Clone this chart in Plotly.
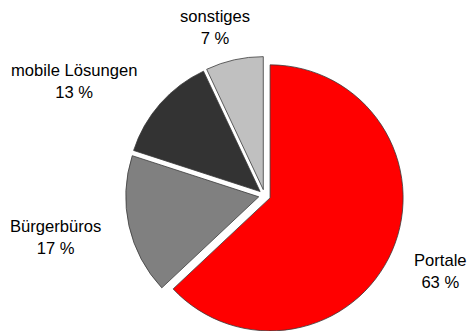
import plotly.graph_objects as go

# Share of channels (percent), clockwise from 12 o'clock
categories = ["Portale", "Bürgerbüros", "mobile Lösungen", "sonstiges"]
shares = [63, 17, 13, 7]
colors = ["#FF0000", "#808080", "#333333", "#C0C0C0"]

# Label anchor points in pixels (x centre, y middle of the two-line label)
label_px = {
    "Portale": (440, 271),
    "Bürgerbüros": (55, 237),
    "mobile Lösungen": (74, 81),
    "sonstiges": (215, 27),
}

W, H = 468, 336

# Pie box: centre (264.6, 195.5), outer radius incl. pull = 139
cx, cy, rt = 264.6, 195.5, 139.0

fig = go.Figure(
    go.Pie(
        labels=categories,
        values=shares,
        sort=False,
        direction="clockwise",
        rotation=0,
        pull=[0.045] * len(shares),
        marker=dict(colors=colors, line=dict(color="#3a3a3a", width=0.8)),
        textinfo="none",
        hoverinfo="skip",
        showlegend=False,
        domain=dict(
            x=[(cx - rt) / W, (cx + rt) / W],
            y=[1 - (cy + rt) / H, 1 - (cy - rt) / H],
        ),
    )
)

for name, val in zip(categories, shares):
    px_x, px_y = label_px[name]
    fig.add_annotation(
        x=px_x / W,
        y=1 - px_y / H,
        xref="paper",
        yref="paper",
        xanchor="center",
        yanchor="middle",
        text=f"{name}<br>{val} %",
        showarrow=False,
        font=dict(family="Liberation Sans, Arial, sans-serif", size=16.6, color="#000000"),
        align="center",
    )

fig.update_layout(
    width=W,
    height=H,
    margin=dict(l=0, r=0, t=0, b=0),
    paper_bgcolor="#FFFFFF",
    plot_bgcolor="#FFFFFF",
)

fig.write_html(
    "out.html",
    config={"displayModeBar": False},
    post_script="document.documentElement.style.overflow='hidden';document.body.style.overflow='hidden';",
)
